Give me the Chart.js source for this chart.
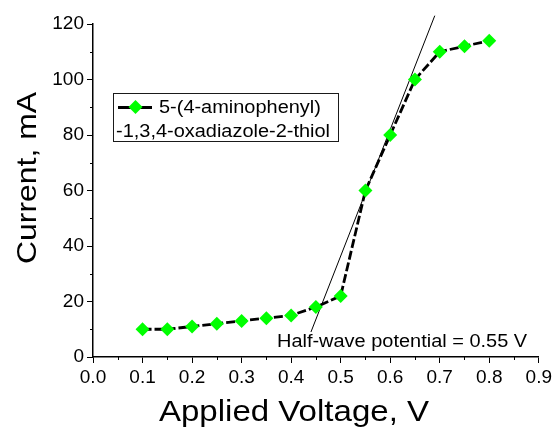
<!DOCTYPE html>
<html><head><meta charset="utf-8">
<script src="https://cdn.jsdelivr.net/npm/chart.js@4/dist/chart.umd.min.js"></script>
<style>html,body{margin:0;padding:0;background:#fff}</style>
</head><body>
<canvas id="c" width="555" height="428"></canvas>
<script>
const voltage = [0.10,0.15,0.20,0.25,0.30,0.35,0.40,0.45,0.50,0.55,0.60,0.65,0.70,0.75,0.80];
const current = [10,10,11,12,13,14,15,18,22,60,80,100,110,112,114];
const tangentX = [0.44,0.69];
const tangentY = [9,123];
const legendLines = ['5-(4-aminophenyl)','-1,3,4-oxadiazole-2-thiol'];
const annotationText = 'Half-wave potential = 0.55 V';
const xTitle = 'Applied Voltage, V';
const yTitle = 'Current, mA';

const FONT = '"Liberation Sans", Arial, sans-serif';
const STRETCH = 1.14;

function stretchedText(ctx, text, x, y, size, align, base) {
  ctx.save();
  ctx.font = size + 'px ' + FONT;
  ctx.textBaseline = base || 'alphabetic';
  const w = ctx.measureText(text).width * STRETCH;
  let sx = x;
  if (align === 'center') sx = x - w / 2;
  else if (align === 'right') sx = x - w;
  ctx.translate(sx, y);
  ctx.scale(STRETCH, 1);
  ctx.textAlign = 'left';
  ctx.fillText(text, 0, 0);
  ctx.restore();
}

const extras = {
  id:'extras',
  afterDraw(chart){
    const ctx = chart.ctx;
    const xs = chart.scales.x, ys = chart.scales.y;
    ctx.save();
    ctx.setLineDash([]);
    ctx.globalAlpha = 1;
    ctx.fillStyle = '#000';
    for (let v = 0.05; v < 0.9; v += 0.1) {
      const px = Math.round(xs.getPixelForValue(v));
      ctx.fillRect(px, ys.bottom, 1, 3);
    }
    for (let v = 10; v < 120; v += 20) {
      const py = Math.round(ys.getPixelForValue(v));
      ctx.fillRect(xs.left - 3, py, 3, 1);
    }
    const ly = 107;
    ctx.fillStyle = '#000';
    ctx.fillRect(118, ly - 1, 34, 3);
    ctx.fillStyle = '#00FF00';
    const cx = 135.5, r = 7;
    ctx.beginPath(); ctx.moveTo(cx, ly - r); ctx.lineTo(cx + r, ly); ctx.lineTo(cx, ly + r); ctx.lineTo(cx - r, ly); ctx.closePath(); ctx.fill();
    ctx.fillStyle = '#000';
    stretchedText(ctx, legendLines[0], 159, ly + 1, 17.5, 'left', 'middle');
    stretchedText(ctx, legendLines[1], 116, 132, 17.5, 'left', 'middle');
    stretchedText(ctx, annotationText, 277, 346.5, 17.5, 'left', 'alphabetic');
    stretchedText(ctx, xTitle, 294, 421, 29, 'center', 'alphabetic');
    ctx.save();
    ctx.translate(36, 178);
    ctx.rotate(-Math.PI / 2);
    stretchedText(ctx, yTitle, 0, 0, 28, 'center', 'alphabetic');
    ctx.restore();
    ctx.setTransform(1, 0, 0, 1, 0, 0);
    ctx.fillStyle = '#1a1a1a';
    ctx.fillRect(113, 93, 225, 1);
    ctx.fillRect(113, 141, 226, 1);
    ctx.fillRect(113, 93, 1, 49);
    ctx.fillRect(338, 93, 1, 49);
    ctx.restore();
  }
};

new Chart(document.getElementById('c'), {
  type: 'scatter',
  data: {
    datasets: [
      {
        label: legendLines.join(' '),
        data: voltage.map((v,i)=>({x:v, y:current[i]})),
        showLine: true,
        borderColor: '#000',
        borderWidth: 2.8,
        borderDash: [9,3],
        pointStyle: 'rectRot',
        pointRadius: 7,
        pointHoverRadius: 7,
        pointBackgroundColor: '#00FF00',
        pointBorderColor: '#00FF00',
        pointBorderWidth: 0,
        order: 1
      },
      {
        label: 'tangent',
        data: tangentX.map((v,i)=>({x:v, y:tangentY[i]})),
        showLine: true,
        borderColor: '#000',
        borderWidth: 1,
        pointRadius: 0,
        clip: false,
        order: 2
      }
    ]
  },
  options: {
    responsive: false,
    animation: false,
    devicePixelRatio: 1,
    layout: { padding: { top: 24, right: 15, left: 0, bottom: 0 } },
    plugins: { legend: { display: false }, tooltip: { enabled: false } },
    scales: {
      x: {
        type: 'linear', min: 0, max: 0.9,
        ticks: { stepSize: 0.1, color: '#000', font: { size: 19, family: FONT }, padding: 3, maxRotation: 0,
                 callback: v => v.toFixed(1) },
        grid: { drawOnChartArea: false, tickLength: 6, color: '#000', lineWidth: 1 },
        border: { display: true, color: '#000', width: 1.5 },
        title: { display: false, text: xTitle },
        afterFit(s){ s.height = 71; }
      },
      y: {
        type: 'linear', min: 0, max: 120,
        ticks: { stepSize: 20, color: '#000', font: { size: 19, family: FONT }, padding: 3 },
        grid: { drawOnChartArea: false, tickLength: 6, color: '#000', lineWidth: 1 },
        border: { display: true, color: '#000', width: 1.5 },
        title: { display: false, text: yTitle },
        afterFit(s){ s.width = 93; }
      }
    }
  },
  plugins: [extras]
});
</script>
</body></html>
